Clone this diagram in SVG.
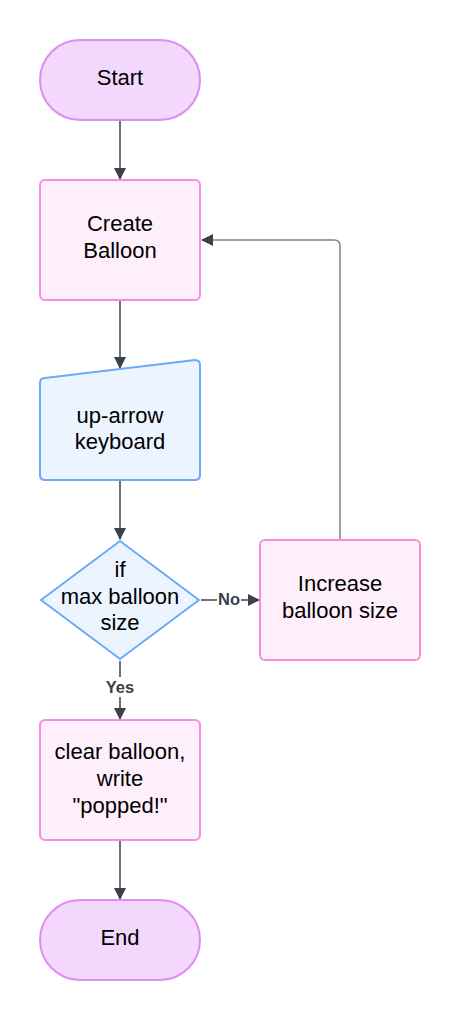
<svg xmlns="http://www.w3.org/2000/svg" width="460" height="1020" viewBox="0 0 460 1020">
<defs>
<marker id="ah" viewBox="0 0 12 12" refX="11" refY="6" markerWidth="12" markerHeight="12" markerUnits="userSpaceOnUse" orient="auto">
<path d="M0,0 L12,6 L0,12 Z" fill="#3a414a"/>
</marker>
<style>
.term{fill:#f3d7fc;stroke:#e08cf5;stroke-width:2}
.proc{fill:#ffeffa;stroke:#f78ce0;stroke-width:2}
.blue{fill:#ecf4ff;stroke:#6aaaf8;stroke-width:2}
.t{font-family:"Liberation Sans",Arial,sans-serif;font-size:22px;fill:#000;text-anchor:middle}
.lbl{font-family:"Liberation Sans",Arial,sans-serif;font-size:16.5px;font-weight:bold;fill:#3a414a;text-anchor:middle}
.c{fill:none;stroke:#3a414a;stroke-width:1.5}
.cl{fill:none;stroke:#7c828c;stroke-width:1.5}
</style>
</defs>
<rect width="460" height="1020" fill="#fff"/>
<g id="connectors">
<line class="c" x1="120" y1="121" x2="120" y2="179" marker-end="url(#ah)"/>
<line class="c" x1="120" y1="301" x2="120" y2="368" marker-end="url(#ah)"/>
<line class="c" x1="120" y1="481" x2="120" y2="539" marker-end="url(#ah)"/>
<line class="c" x1="201" y1="600" x2="259" y2="600" marker-end="url(#ah)"/>
<line class="c" x1="120" y1="661" x2="120" y2="719" marker-end="url(#ah)"/>
<line class="c" x1="120" y1="841" x2="120" y2="899" marker-end="url(#ah)"/>
<path class="cl" d="M340,540 V246 Q340,240 334,240 H202" marker-end="url(#ah)"/>
<rect x="217" y="590" width="24" height="20" fill="#fff"/>
<text class="lbl" x="229" y="605">No</text>
<rect x="102" y="677" width="36" height="20" fill="#fff"/>
<text class="lbl" x="120" y="693">Yes</text>
</g>
<g id="start">
<rect class="term" x="40" y="40" width="160" height="80" rx="40"/>
<text class="t" x="120" y="85">Start</text>
</g>
<g id="create">
<rect class="proc" x="40" y="180" width="160" height="120" rx="5"/>
<text class="t" x="120" y="231">Create</text>
<text class="t" x="120" y="258">Balloon</text>
</g>
<g id="input">
<path class="blue" d="M45,378 L195,360 Q200,360 200,365 V475 Q200,480 195,480 H45 Q40,480 40,475 V383 Q40,378 45,378 Z"/>
<text class="t" x="120" y="423">up-arrow</text>
<text class="t" x="120" y="449">keyboard</text>
</g>
<g id="decision">
<path class="blue" d="M120,541 L199,600 L120,659 L41,600 Z" stroke-linejoin="round"/>
<text class="t" x="120" y="577">if</text>
<text class="t" x="120" y="604">max balloon</text>
<text class="t" x="120" y="630">size</text>
</g>
<g id="increase">
<rect class="proc" x="260" y="540" width="160" height="120" rx="5"/>
<text class="t" x="340" y="591">Increase</text>
<text class="t" x="340" y="618">balloon size</text>
</g>
<g id="clear">
<rect class="proc" x="40" y="720" width="160" height="120" rx="5"/>
<text class="t" x="120" y="759">clear balloon,</text>
<text class="t" x="120" y="786">write</text>
<text class="t" x="120" y="813">"popped!"</text>
</g>
<g id="end">
<rect class="term" x="40" y="900" width="160" height="80" rx="40"/>
<text class="t" x="120" y="945">End</text>
</g>
</svg>
